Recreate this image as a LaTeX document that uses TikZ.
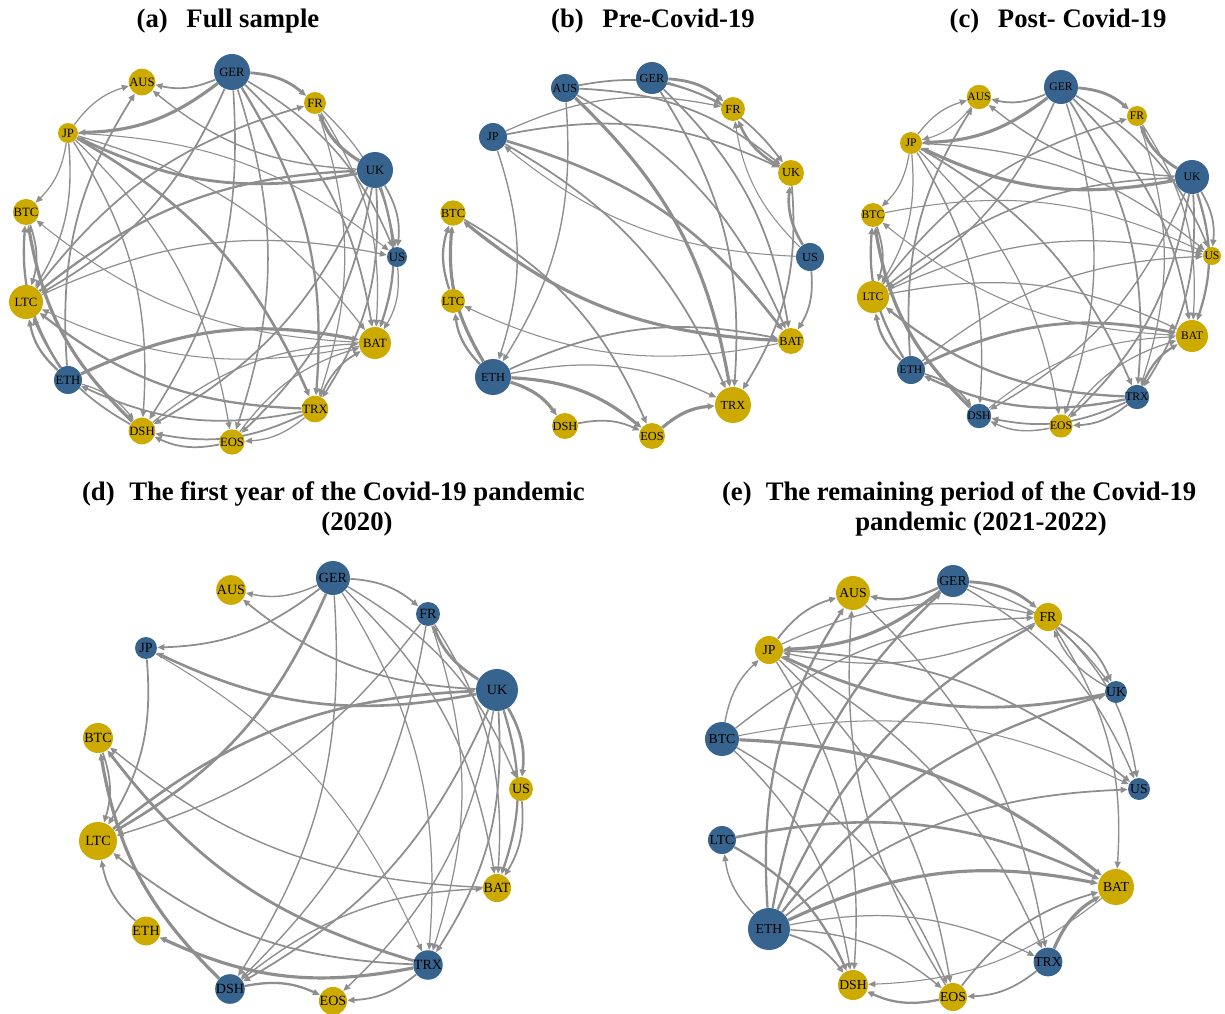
\documentclass[tikz,border=0pt]{standalone}
\usepackage{fontspec}
\setmainfont{Liberation Serif}
\usetikzlibrary{arrows.meta,backgrounds}
\definecolor{cb}{HTML}{37648E}
\definecolor{cy}{HTML}{CDAA00}
\definecolor{eg}{HTML}{8E8E8E}
\tikzset{
 nd/.style={circle, inner sep=0pt, text=black},
 edg/.style={draw=eg, -{Triangle[length=4pt,width=3.4pt]}, bend left=18},
 ttl/.style={font=\fontsize{15.2}{17}\selectfont\bfseries, align=center, inner sep=0pt}
}
\newcommand\gnode[6]{\node[nd, fill=#6, minimum size=#5*0.04cm] (#1) at (#3,#4) {#2};}
\newcommand\ed[3]{\draw[edg, line width=#3pt] (#1) to (#2);}
\begin{document}
\begin{tikzpicture}[x=0.02cm,y=-0.02cm]
\useasboundingbox (0,0) rectangle (1225,1014);
% titles
\node[ttl] (ta) at (228,21) {(a)\hspace{0.7em}Full sample};
\node[ttl] (tb) at (653,21) {(b)\hspace{0.7em}Pre-Covid-19};
\node[ttl] (tc) at (1058,21) {(c)\hspace{0.7em}Post- Covid-19};
\node[ttl] (td) at (357,509) {The first year of the Covid-19 pandemic\\(2020)};
\node[ttl, anchor=east] (tdl) at (115,494) {(d)};
\node[ttl] (te) at (981,509) {The remaining period of the Covid-19\\pandemic (2021-2022)};
\node[ttl, anchor=east] (tel) at (752,494) {(e)};

% ---------------- panel a
\begin{scope}[nd/.append style={font=\fontsize{7.2}{8}\selectfont}]
\gnode{aGER}{GER}{232}{72}{18}{cb}
\gnode{aAUS}{AUS}{142}{82}{11}{cy}
\gnode{aFR}{FR}{315}{103}{11}{cy}
\gnode{aJP}{JP}{68}{133}{10}{cy}
\gnode{aUK}{UK}{375}{170}{18}{cb}
\gnode{aBTC}{BTC}{26}{212}{10}{cy}
\gnode{aUS}{US}{397}{257}{10}{cb}
\gnode{aLTC}{LTC}{26}{302}{17}{cy}
\gnode{aBAT}{BAT}{375}{343}{16}{cy}
\gnode{aETH}{ETH}{68}{380}{14}{cb}
\gnode{aTRX}{TRX}{315}{409}{11}{cy}
\gnode{aDSH}{DSH}{142}{431}{11}{cy}
\gnode{aEOS}{EOS}{232}{442}{11}{cy}
\end{scope}
\begin{pgfonlayer}{background}
\ed{aGER}{aAUS}{1.0}\ed{aGER}{aJP}{1.8}\ed{aGER}{aFR}{1.6}\ed{aGER}{aUS}{0.9}
\ed{aGER}{aBAT}{1.0}\ed{aGER}{aTRX}{1.3}\ed{aGER}{aEOS}{0.9}\ed{aGER}{aDSH}{0.9}
\ed{aGER}{aLTC}{1.0}\ed{aJP}{aAUS}{0.7}\ed{aJP}{aLTC}{0.8}\ed{aJP}{aBTC}{0.7}
\ed{aJP}{aUS}{0.6}\ed{aJP}{aTRX}{1.5}\ed{aJP}{aBAT}{0.7}\ed{aJP}{aEOS}{0.7}
\ed{aJP}{aDSH}{0.8}\ed{aUK}{aJP}{1.6}\ed{aUK}{aAUS}{0.8}\ed{aUK}{aFR}{1.8}
\ed{aUK}{aUS}{1.0}\ed{aUK}{aBAT}{1.3}\ed{aUK}{aTRX}{1.0}\ed{aUK}{aEOS}{1.0}
\ed{aUK}{aDSH}{1.0}\ed{aLTC}{aUK}{1.3}\ed{aLTC}{aFR}{1.0}\ed{aLTC}{aUS}{0.7}
\ed{aFR}{aBAT}{0.7}\ed{aFR}{aTRX}{0.7}\ed{aFR}{aUS}{0.7}\ed{aUS}{aBAT}{0.7}
\ed{aBAT}{aLTC}{0.6}\ed{aETH}{aBAT}{1.8}\ed{aBAT}{aBTC}{0.6}\ed{aTRX}{aLTC}{1.3}
\ed{aTRX}{aETH}{1.0}\ed{aTRX}{aDSH}{1.0}\ed{aTRX}{aEOS}{0.7}\ed{aTRX}{aBAT}{1.0}
\ed{aEOS}{aDSH}{1.0}\ed{aEOS}{aBAT}{0.7}\ed{aETH}{aAUS}{1.0}\ed{aETH}{aLTC}{1.3}
\ed{aETH}{aBTC}{1.3}\ed{aDSH}{aBTC}{1.8}\ed{aDSH}{aLTC}{1.0}\ed{aETH}{aDSH}{0.7}
\ed{aBTC}{aLTC}{1.0}\ed{aDSH}{aBAT}{0.7}
\end{pgfonlayer}

% ---------------- panel b
\begin{scope}[nd/.append style={font=\fontsize{7}{8}\selectfont}]
\gnode{bGER}{GER}{652}{78}{16}{cb}
\gnode{bAUS}{AUS}{565}{88}{14}{cb}
\gnode{bFR}{FR}{733}{109}{12}{cy}
\gnode{bJP}{JP}{493}{137}{14}{cb}
\gnode{bUK}{UK}{791}{173}{13}{cy}
\gnode{bBTC}{BTC}{453}{213}{12}{cy}
\gnode{bUS}{US}{810}{257}{14}{cb}
\gnode{bLTC}{LTC}{453}{301}{12}{cy}
\gnode{bBAT}{BAT}{791}{341}{13}{cy}
\gnode{bETH}{ETH}{493}{377}{18}{cb}
\gnode{bTRX}{TRX}{733}{405}{18}{cy}
\gnode{bDSH}{DSH}{565}{426}{11}{cy}
\gnode{bEOS}{EOS}{652}{436}{13}{cy}
\end{scope}
\begin{pgfonlayer}{background}
\ed{bGER}{bFR}{1.6}\ed{bGER}{bUK}{1.0}\ed{bGER}{bTRX}{1.0}\ed{bGER}{bBAT}{1.0}
\ed{bAUS}{bFR}{1.0}\ed{bAUS}{bUK}{1.0}\ed{bAUS}{bTRX}{1.8}\ed{bAUS}{bETH}{0.8}
\ed{bAUS}{bBAT}{1.0}\ed{bJP}{bFR}{0.7}\ed{bJP}{bUK}{1.0}\ed{bJP}{bETH}{0.8}
\ed{bJP}{bBAT}{1.5}\ed{bJP}{bTRX}{1.0}\ed{bUS}{bJP}{0.6}\ed{bUS}{bUK}{1.5}
\ed{bUS}{bFR}{0.6}\ed{bUS}{bBAT}{1.0}\ed{bUK}{bFR}{1.5}\ed{bUK}{bTRX}{1.0}
\ed{bBAT}{bBTC}{1.8}\ed{bBTC}{bEOS}{1.0}\ed{bBAT}{bLTC}{0.6}\ed{bETH}{bBTC}{1.8}
\ed{bETH}{bLTC}{1.3}\ed{bLTC}{bBTC}{1.3}\ed{bETH}{bBAT}{1.0}\ed{bETH}{bTRX}{0.7}
\ed{bETH}{bEOS}{1.8}\ed{bETH}{bDSH}{1.8}\ed{bDSH}{bEOS}{1.0}\ed{bEOS}{bTRX}{1.8}
\end{pgfonlayer}

% ---------------- panel c
\begin{scope}[nd/.append style={font=\fontsize{6.6}{7}\selectfont}]
\gnode{cGER}{GER}{1061}{87}{17}{cb}
\gnode{cAUS}{AUS}{979}{97}{12}{cy}
\gnode{cFR}{FR}{1137}{116}{10}{cy}
\gnode{cJP}{JP}{911}{143}{11}{cy}
\gnode{cUK}{UK}{1192}{177}{17}{cb}
\gnode{cBTC}{BTC}{873}{215}{10}{cy}
\gnode{cUS}{US}{1212}{256}{9}{cy}
\gnode{cLTC}{LTC}{873}{297}{16}{cy}
\gnode{cBAT}{BAT}{1192}{336}{16}{cy}
\gnode{cETH}{ETH}{911}{370}{14}{cb}
\gnode{cTRX}{TRX}{1137}{397}{11}{cb}
\gnode{cDSH}{DSH}{979}{416}{9}{cb}
\gnode{cEOS}{EOS}{1061}{426}{11}{cy}
\end{scope}
\begin{pgfonlayer}{background}
\ed{cGER}{cAUS}{1.0}\ed{cGER}{cJP}{1.8}\ed{cGER}{cFR}{1.6}\ed{cGER}{cUS}{0.9}
\ed{cGER}{cBAT}{1.0}\ed{cGER}{cTRX}{1.0}\ed{cGER}{cEOS}{0.8}\ed{cGER}{cLTC}{0.9}
\ed{cJP}{cAUS}{0.7}\ed{cAUS}{cJP}{0.6}\ed{cETH}{cAUS}{1.0}\ed{cUK}{cJP}{1.8}
\ed{cUK}{cAUS}{0.8}\ed{cUK}{cFR}{1.6}\ed{cUK}{cUS}{1.0}\ed{cUK}{cBAT}{1.3}
\ed{cUK}{cTRX}{1.0}\ed{cUK}{cEOS}{1.0}\ed{cUK}{cDSH}{0.8}\ed{cLTC}{cUK}{0.9}
\ed{cJP}{cBTC}{0.7}\ed{cJP}{cLTC}{0.7}\ed{cJP}{cUS}{0.7}\ed{cJP}{cTRX}{1.0}
\ed{cJP}{cEOS}{0.7}\ed{cJP}{cDSH}{0.8}\ed{cBTC}{cUS}{0.6}\ed{cLTC}{cUS}{0.7}
\ed{cLTC}{cBAT}{0.7}\ed{cLTC}{cFR}{0.9}\ed{cETH}{cBAT}{1.6}\ed{cETH}{cUS}{0.7}
\ed{cTRX}{cLTC}{1.3}\ed{cTRX}{cETH}{1.3}\ed{cTRX}{cDSH}{1.0}\ed{cTRX}{cEOS}{1.0}
\ed{cTRX}{cBAT}{1.3}\ed{cEOS}{cDSH}{0.8}\ed{cDSH}{cBTC}{1.8}\ed{cETH}{cBTC}{1.3}
\ed{cETH}{cLTC}{1.3}\ed{cBTC}{cLTC}{1.0}\ed{cEOS}{cBAT}{0.7}\ed{cBAT}{cBTC}{0.6}
\ed{cETH}{cDSH}{1.0}\ed{cFR}{cBAT}{0.7}\ed{cFR}{cTRX}{0.7}\ed{cDSH}{cBAT}{0.6}
\end{pgfonlayer}

% ---------------- panel d
\begin{scope}[nd/.append style={font=\fontsize{8}{9}\selectfont}]
\gnode{dGER}{GER}{333}{578}{17}{cb}
\gnode{dAUS}{AUS}{231}{590}{12}{cy}
\gnode{dFR}{FR}{428}{614}{12}{cb}
\gnode{dJP}{JP}{146}{648}{11}{cb}
\gnode{dUK}{UK}{497}{690}{21}{cb}
\gnode{dBTC}{BTC}{98}{738}{15}{cy}
\gnode{dUS}{US}{521}{789}{12}{cy}
\gnode{dLTC}{LTC}{98}{841}{19}{cy}
\gnode{dBAT}{BAT}{497}{888}{14}{cy}
\gnode{dETH}{ETH}{146}{931}{11}{cy}
\gnode{dTRX}{TRX}{428}{965}{14}{cb}
\gnode{dDSH}{DSH}{230}{989}{14}{cb}
\gnode{dEOS}{EOS}{333}{1001}{14}{cy}
\end{scope}
\begin{pgfonlayer}{background}
\ed{dGER}{dAUS}{0.8}\ed{dGER}{dJP}{1.0}\ed{dGER}{dFR}{1.0}\ed{dGER}{dLTC}{1.5}
\ed{dGER}{dDSH}{0.8}\ed{dGER}{dTRX}{0.7}\ed{dGER}{dBAT}{0.8}\ed{dGER}{dUS}{0.8}
\ed{dUK}{dAUS}{1.0}\ed{dUK}{dJP}{1.5}\ed{dUK}{dFR}{1.6}\ed{dUK}{dUS}{1.5}
\ed{dUK}{dBAT}{1.3}\ed{dUK}{dTRX}{1.0}\ed{dUK}{dDSH}{1.0}\ed{dUK}{dEOS}{0.8}
\ed{dLTC}{dUK}{1.5}\ed{dFR}{dLTC}{0.8}\ed{dFR}{dDSH}{0.8}\ed{dFR}{dTRX}{0.7}
\ed{dFR}{dBAT}{0.8}\ed{dJP}{dLTC}{1.0}\ed{dJP}{dTRX}{0.6}\ed{dBTC}{dLTC}{1.0}
\ed{dDSH}{dBTC}{1.8}\ed{dTRX}{dBTC}{1.6}\ed{dBAT}{dBTC}{0.8}\ed{dTRX}{dLTC}{1.0}
\ed{dETH}{dLTC}{1.0}\ed{dTRX}{dETH}{1.8}\ed{dDSH}{dBAT}{0.8}\ed{dDSH}{dEOS}{1.3}
\ed{dTRX}{dEOS}{1.0}\ed{dUS}{dBAT}{1.0}
\end{pgfonlayer}

% ---------------- panel e
\begin{scope}[nd/.append style={font=\fontsize{7.8}{9}\selectfont}]
\gnode{eGER}{GER}{953}{581}{16}{cb}
\gnode{eAUS}{AUS}{853}{593}{17}{cy}
\gnode{eFR}{FR}{1048}{617}{14}{cy}
\gnode{eJP}{JP}{769}{650}{14}{cy}
\gnode{eUK}{UK}{1116}{692}{11}{cb}
\gnode{eBTC}{BTC}{722}{739}{17}{cb}
\gnode{eUS}{US}{1139}{789}{11}{cb}
\gnode{eLTC}{LTC}{722}{840}{14}{cb}
\gnode{eBAT}{BAT}{1116}{887}{18}{cy}
\gnode{eETH}{ETH}{769}{929}{21}{cb}
\gnode{eTRX}{TRX}{1048}{962}{12}{cb}
\gnode{eDSH}{DSH}{853}{985}{15}{cy}
\gnode{eEOS}{EOS}{953}{997}{14}{cy}
\end{scope}
\begin{pgfonlayer}{background}
\ed{eGER}{eAUS}{1.3}\ed{eGER}{eJP}{1.8}\ed{eGER}{eFR}{1.6}\ed{eGER}{eUK}{0.8}
\ed{eETH}{eGER}{1.3}\ed{eJP}{eAUS}{1.0}\ed{eJP}{eFR}{0.7}\ed{eFR}{eJP}{0.7}
\ed{eUK}{eJP}{1.6}\ed{eJP}{eUS}{1.0}\ed{eJP}{eDSH}{0.8}\ed{eJP}{eEOS}{0.8}
\ed{eJP}{eTRX}{0.8}\ed{eBTC}{eJP}{0.8}\ed{eBTC}{eFR}{0.8}\ed{eBTC}{eUS}{0.6}
\ed{eBTC}{eBAT}{1.8}\ed{eBTC}{eDSH}{0.8}\ed{eBTC}{eEOS}{0.8}\ed{eLTC}{eBAT}{1.5}
\ed{eLTC}{eDSH}{1.3}\ed{eETH}{eLTC}{0.8}\ed{eETH}{eAUS}{1.3}\ed{eETH}{eFR}{1.3}
\ed{eETH}{eUK}{1.3}\ed{eETH}{eUS}{1.0}\ed{eETH}{eBAT}{1.8}\ed{eETH}{eTRX}{0.7}
\ed{eETH}{eEOS}{0.8}\ed{eETH}{eDSH}{1.0}\ed{eAUS}{eTRX}{0.8}\ed{eEOS}{eAUS}{0.8}
\ed{eFR}{eUK}{1.0}\ed{eUK}{eFR}{0.8}\ed{eFR}{eUS}{0.8}\ed{eFR}{eBAT}{0.8}
\ed{eGER}{eUS}{0.8}\ed{eTRX}{eBAT}{1.8}\ed{eEOS}{eBAT}{1.0}\ed{eBAT}{eDSH}{0.6}
\ed{eEOS}{eDSH}{1.3}\ed{eTRX}{eEOS}{1.0}
\end{pgfonlayer}
\end{tikzpicture}
\end{document}
